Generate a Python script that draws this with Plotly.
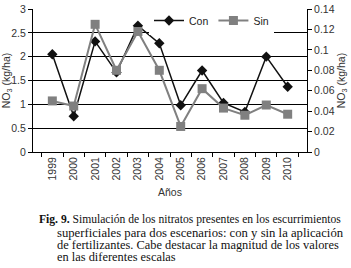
import plotly.graph_objects as go

years = ["1999", "2000", "2001", "2002", "2003", "2004", "2005", "2006", "2007", "2008", "2009", "2010"]
con = [2.05, 0.75, 2.32, 1.67, 2.65, 2.28, 0.98, 1.71, 1.03, 0.84, 2.0, 1.37]
sin = [0.050, 0.045, 0.125, 0.080, 0.118, 0.080, 0.025, 0.062, 0.043, 0.036, 0.046, 0.037]
left_ticks = [0, 0.5, 1, 1.5, 2, 2.5, 3]
left_text = ["0", "0.5", "1", "1.5", "2", "2.5", "3"]
right_ticks = [0, 0.02, 0.04, 0.06, 0.08, 0.10, 0.12, 0.14]
right_text = ["0", "0.02", "0.04", "0.06", "0.08", "0.1", "0.12", "0.14"]
caption = [
    "<b>Fig. 9.</b> Simulación de los nitratos presentes en los escurrimientos",
    "superficiales para dos escenarios: con y sin la aplicación",
    "de fertilizantes. Cabe destacar la magnitud de los valores",
    "en las diferentes escalas",
]

W, H = 351, 268
L, R, T, B = 33, 44, 9, 116
pw = W - L - R
ph = H - T - B

fig = go.Figure()
fig.add_trace(go.Scatter(x=years, y=con, name="Con", mode="lines+markers",
                         line=dict(color="#111111", width=1.5),
                         marker=dict(symbol="diamond", size=8, color="#111111")))
fig.add_trace(go.Scatter(x=years, y=sin, name="Sin", mode="lines+markers", yaxis="y2",
                         line=dict(color="#808080", width=2),
                         marker=dict(symbol="square", size=9, color="#808080")))

axfont = dict(family="Liberation Sans, Arial, sans-serif", size=10.5, color="#333333")
fig.update_layout(
    width=W, height=H,
    margin=dict(l=L, r=R, t=T, b=B, pad=0, autoexpand=False),
    paper_bgcolor="white", plot_bgcolor="white",
    showlegend=True,
    legend=dict(orientation="h", x=(149 - L) / pw, y=(H - B - 6) / ph, xanchor="left", yanchor="top",
                bgcolor="white", font=dict(family="Liberation Sans, Arial, sans-serif", size=10.5, color="#222"),
                itemwidth=30, tracegroupgap=0, borderwidth=0),
    xaxis=dict(type="category", showline=True, linecolor="#000", linewidth=1, automargin=False,
               ticks="outside", ticklen=4, tickcolor="#000", tickson="boundaries",
               tickangle=-90, tickfont=axfont, showgrid=False,
               title=dict(text="Años", font=axfont, standoff=9)),
    yaxis=dict(range=[0, 3], tickvals=left_ticks, ticktext=left_text, automargin=False,
               showline=True, linecolor="#000", linewidth=1,
               ticks="outside", ticklen=4, tickcolor="#000",
               showgrid=True, gridcolor="#000", gridwidth=1, zeroline=False,
               tickfont=axfont,
               title=dict(text="NO<sub>3</sub> (kg/ha)", font=axfont, standoff=2)),
    yaxis2=dict(range=[0, 0.14], tickvals=right_ticks, ticktext=right_text, automargin=False,
                overlaying="y", side="right",
                showline=True, linecolor="#000", linewidth=1,
                ticks="outside", ticklen=4, tickcolor="#000",
                showgrid=False, zeroline=False, tickfont=axfont,
                title=dict(text="NO<sub>3</sub> (kg/ha)", font=axfont, standoff=2)),
)

line_y = [220, 233, 245, 257]
line_x = [37, 55, 55, 55]
sizes = [11.6, 12.7, 12.4, 12.4]
for txt, px, py, fs in zip(caption, line_x, line_y, sizes):
    fig.add_annotation(text=txt, xref="paper", yref="paper",
                       x=(px - L) / pw, y=(H - B - py) / ph,
                       xanchor="left", yanchor="middle", showarrow=False,
                       font=dict(family="Liberation Serif, Times New Roman, serif", size=fs, color="#111"))

fig.write_html("out.html", config={"displayModeBar": False},
               post_script="document.body.style.margin='0';document.body.style.padding='0';")
